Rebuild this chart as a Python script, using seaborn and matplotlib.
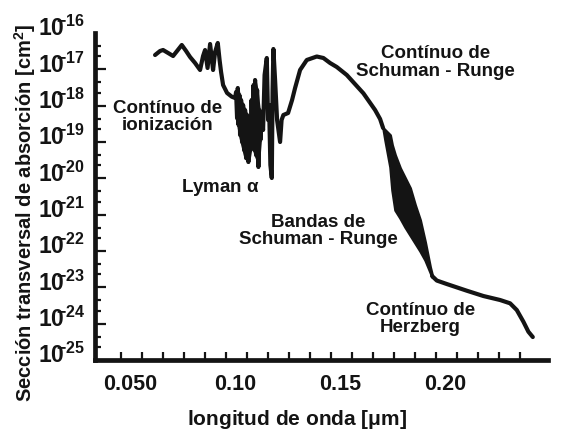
import numpy as np
import matplotlib
matplotlib.use("Agg")
import matplotlib.pyplot as plt
import matplotlib.ticker as mticker
import matplotlib.transforms as mtrans
import seaborn as sns

# ---------------- data ----------------
# wavelength in micrometres, cross-section as log10(sigma / cm^2)
wl_main = [0.06190, 0.06429, 0.06571, 0.06810, 0.07048, 0.07238, 0.07462, 0.07667,
           0.07857, 0.08095, 0.08333, 0.08476, 0.08571, 0.08690, 0.08810, 0.08952,
           0.09048, 0.09176, 0.09262, 0.09333, 0.09429, 0.09619, 0.09843, 0.10000,
           0.10048, 0.10095, 0.10129, 0.10167, 0.10205, 0.10238, 0.10286, 0.10333,
           0.10381, 0.10429, 0.10476, 0.10524, 0.10571, 0.10633, 0.10690, 0.10738,
           0.10786, 0.10833, 0.10881, 0.10929, 0.10952, 0.11000, 0.11048, 0.11110,
           0.11157, 0.11205, 0.11262, 0.11333, 0.11405, 0.11510, 0.11571, 0.11619,
           0.11681, 0.11748, 0.11786, 0.11824, 0.11905, 0.12000, 0.12143, 0.12214,
           0.12300, 0.12524, 0.12714, 0.12857, 0.13095, 0.13414, 0.13890, 0.14205,
           0.14524, 0.14843, 0.15319, 0.16110, 0.16667, 0.16905, 0.17048]
logsig_main = [-16.606, -16.495, -16.468, -16.550, -16.633, -16.495, -16.330, -16.495,
               -16.661, -16.826, -17.018, -16.633, -16.468, -16.963, -16.303, -17.018,
               -16.523, -16.275, -16.743, -17.073, -17.431, -17.651, -17.753, -17.789,
               -17.624, -18.340, -17.514, -18.532, -17.707, -18.808, -17.844, -19.000,
               -17.982, -19.221, -18.120, -19.441, -18.257, -19.551, -18.395, -19.221,
               -17.844, -18.945, -17.431, -19.221, -17.294, -19.358, -17.569, -19.688,
               -18.120, -18.945, -18.257, -18.670, -17.156, -16.688, -18.395, -17.982,
               -19.633, -19.991, -17.569, -16.440, -17.294, -18.395, -19.000, -18.395,
               -18.257, -18.202, -17.844, -17.514, -17.018, -16.743, -16.647, -16.688,
               -16.826, -16.936, -17.156, -17.660, -18.120, -18.367, -18.615]

# dense band region below Lyman alpha (upper and lower envelope)
wl_lyband = [0.10048, 0.10129, 0.10205, 0.10286, 0.10381, 0.10476, 0.10571, 0.10633,
             0.10690, 0.10738, 0.10786, 0.10881, 0.10952, 0.11048, 0.11110, 0.11157, 0.11205]
logsig_lyband_top = [-17.624, -17.514, -17.707, -17.844, -17.982, -18.120, -18.257, -18.395,
                     -18.395, -18.500, -17.844, -17.431, -17.294, -17.569, -17.900, -18.120, -18.300]
logsig_lyband_bot = [-18.340, -18.532, -18.808, -19.000, -19.221, -19.441, -19.500, -19.551,
                     -19.400, -19.221, -18.945, -19.221, -19.358, -19.500, -19.688, -19.300, -18.945]

# Schumann-Runge bands (dense band region: upper and lower envelope)
wl_band = [0.17048, 0.17143, 0.17381, 0.17476, 0.17619, 0.17857, 0.18095, 0.18333,
           0.18571, 0.18810, 0.19048, 0.19286, 0.19381]
logsig_band_top = [-18.615, -18.670, -18.808, -19.083, -19.358, -19.716, -19.991, -20.266,
                   -20.734, -21.147, -21.753, -22.441, -22.661]
logsig_band_bot = [-18.615, -18.945, -19.688, -20.322, -20.872, -21.092, -21.340, -21.560,
                   -21.780, -22.001, -22.248, -22.579, -22.716]

# Herzberg continuum tail
wl_tail = [0.19381, 0.19605, 0.20081, 0.21033, 0.21824, 0.22619, 0.23095, 0.23414,
           0.23729, 0.23967, 0.24176]
logsig_tail = [-22.689, -22.813, -22.909, -23.093, -23.239, -23.349, -23.440, -23.625,
               -23.947, -24.222, -24.368]

y_decades = list(range(-25, -15))          # 10^-25 ... 10^-16
x_labels = [0.05, 0.10, 0.15, 0.20, 0.25]
x_label_text = ["0.050", "0.10", "0.15", "0.20", "0.25"]

annotations = [
    ("Contínuo de\nionización", 0.06762, -18.312),
    ("Lyman $\\mathrm{\\alpha}$", 0.09286, -20.266),
    ("Bandas de\nSchuman - Runge", 0.13952, -21.450),
    ("Contínuo de\nSchuman - Runge", 0.19524, -16.812),
    ("Contínuo de\nHerzberg", 0.18810, -23.872),
]

# ---------------- style ----------------
sns.set_theme(style="white")
plt.rcParams["font.family"] = ["Liberation Sans", "DejaVu Sans"]
plt.rcParams["font.weight"] = "bold"
plt.rcParams["mathtext.fontset"] = "custom"
plt.rcParams["mathtext.rm"] = "Liberation Sans"
plt.rcParams["mathtext.bf"] = "Liberation Sans:bold"
plt.rcParams["mathtext.it"] = "Liberation Sans:italic"
plt.rcParams["mathtext.sf"] = "Liberation Sans"

INK = "#141414"
LW = 3.0

fig = plt.figure(figsize=(5.71, 4.34), dpi=100)
ax = fig.add_axes([95 / 571, 1 - 360 / 434, (548 - 95) / 571, (360 - 33) / 434])

sns.lineplot(x=wl_main, y=10.0 ** np.array(logsig_main), ax=ax, color=INK,
             lw=LW, estimator=None, sort=False)
ax.fill_between(wl_lyband, 10.0 ** np.array(logsig_lyband_bot),
                10.0 ** np.array(logsig_lyband_top), color=INK, lw=1.5, edgecolor=INK)
ax.fill_between(wl_band, 10.0 ** np.array(logsig_band_bot), 10.0 ** np.array(logsig_band_top),
                color=INK, lw=2.0, edgecolor=INK)
sns.lineplot(x=wl_tail, y=10.0 ** np.array(logsig_tail), ax=ax, color=INK,
             lw=LW, estimator=None, sort=False)

ax.set_yscale("log")
ax.set_ylim(1e-25, 1e-16)
ax.set_xlim(0.0333, 0.249)

for side in ("top", "right"):
    ax.spines[side].set_visible(False)
for side in ("left", "bottom"):
    ax.spines[side].set_linewidth(3.4)
    ax.spines[side].set_color(INK)

# y ticks
ax.yaxis.set_major_locator(mticker.FixedLocator([10.0 ** n for n in y_decades]))
ax.yaxis.set_major_formatter(mticker.FixedFormatter(
    [r"$\mathbf{10}^{\!\!\!\mathbf{%d}}$" % n for n in y_decades]))
ax.yaxis.set_minor_locator(mticker.FixedLocator(
    [10.0 ** (n + f) for n in y_decades[:-1] for f in (0.36, 0.64)]))
ax.yaxis.set_minor_formatter(mticker.NullFormatter())
ax.tick_params(axis="y", which="major", direction="in", length=8, width=1.6,
               color=INK, labelsize=16.5, pad=7, left=True)
ax.tick_params(axis="y", which="minor", direction="in", length=4.5, width=1.6,
               color=INK, left=True)
for t, n in zip(ax.yaxis.get_major_ticks(), y_decades):
    if n in (-25, -16):
        t.tick1line.set_visible(False)
offset = mtrans.ScaledTranslation(0, 7 / 100, fig.dpi_scale_trans)
for lab in ax.get_yticklabels():
    lab.set_transform(lab.get_transform() + offset)

# x ticks
ax.xaxis.set_major_locator(mticker.FixedLocator(x_labels))
ax.xaxis.set_major_formatter(mticker.FixedFormatter(x_label_text))
ax.xaxis.set_minor_locator(mticker.FixedLocator(np.arange(0.0455, 0.240, 0.01)))
ax.tick_params(axis="x", which="major", direction="in", length=0, labelsize=15.5,
               pad=10, bottom=True)
ax.tick_params(axis="x", which="minor", direction="in", length=6, width=1.6,
               color=INK, bottom=True)
for lab in ax.get_xticklabels() + ax.get_yticklabels():
    lab.set_fontweight("bold")
    lab.set_color(INK)

for txt, xv, lv in annotations:
    ax.text(xv, 10.0 ** lv, txt, ha="center", va="center", multialignment="center",
            fontsize=13.5, fontweight="bold", color=INK, linespacing=1.05)

fig.text(25 / 571, 1 - 213 / 434,
         "Sección transversal de absorción " + r"$\mathrm{[}\mathbf{cm}^{\mathrm{2}}\mathrm{]}$",
         rotation=90, ha="center", va="center", fontsize=14.5, fontweight="bold", color=INK)
fig.text(297 / 571, 3 / 434,
         "longitud de onda " + r"$\mathrm{[\mu m]}$",
         ha="center", va="bottom", fontsize=15, fontweight="bold", color=INK)

fig.savefig("out.png", dpi=100, facecolor="white")
